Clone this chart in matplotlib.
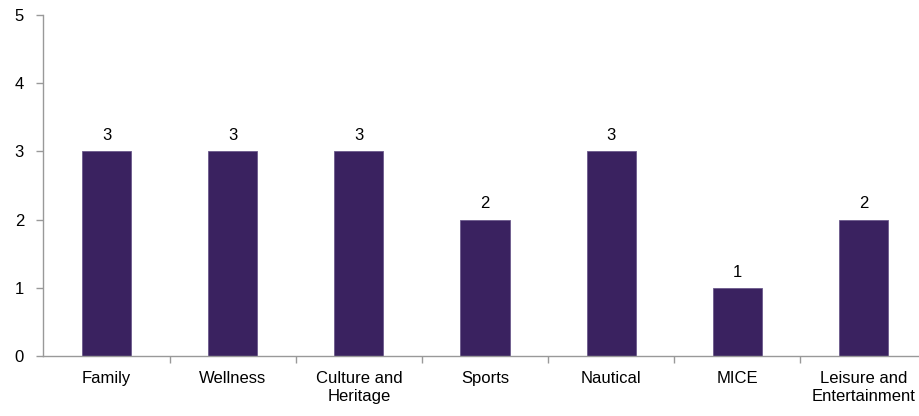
import numpy as np
import matplotlib.pyplot as plt

# Data
categories = ['Family', 'Wellness', 'Culture and\nHeritage', 'Sports',
              'Nautical', 'MICE', 'Leisure and\nEntertainment']
values = [3, 3, 3, 2, 3, 1, 2]

plt.rcParams['font.family'] = ['Liberation Sans', 'DejaVu Sans']
plt.rcParams['font.size'] = 12

fig = plt.figure(figsize=(9.19, 4.16), dpi=100)
ax = fig.add_axes([0.0473, 0.144, 0.961, 0.82])

x = np.arange(len(categories))
bars = ax.bar(x, values, width=0.39, color='#3a2260',
              edgecolor='#6b5a8c', linewidth=0.6)

for b, v in zip(bars, values):
    ax.annotate(str(v), (b.get_x() + b.get_width() / 2, v),
                xytext=(0, 6), textcoords='offset points',
                ha='center', va='bottom')

ax.set_xlim(-0.5, len(categories) - 0.5)
ax.set_ylim(0, 5)
ax.set_yticks(range(6))

# category labels at bar centres, tick marks at the boundaries
ax.set_xticks(x)
ax.set_xticklabels(categories, linespacing=1.25)
ax.tick_params(axis='x', which='major', length=0, pad=11)
ax.set_xticks(np.arange(0.5, len(categories) - 0.5), minor=True)
ax.tick_params(axis='x', which='minor', length=5, color='#999999', width=1)
ax.tick_params(axis='y', length=5, color='#999999', width=1, pad=9)

for s in ['top', 'right']:
    ax.spines[s].set_visible(False)
for s in ['left', 'bottom']:
    ax.spines[s].set_color('#999999')
    ax.spines[s].set_linewidth(1)

fig.savefig('out.png', dpi=100)
